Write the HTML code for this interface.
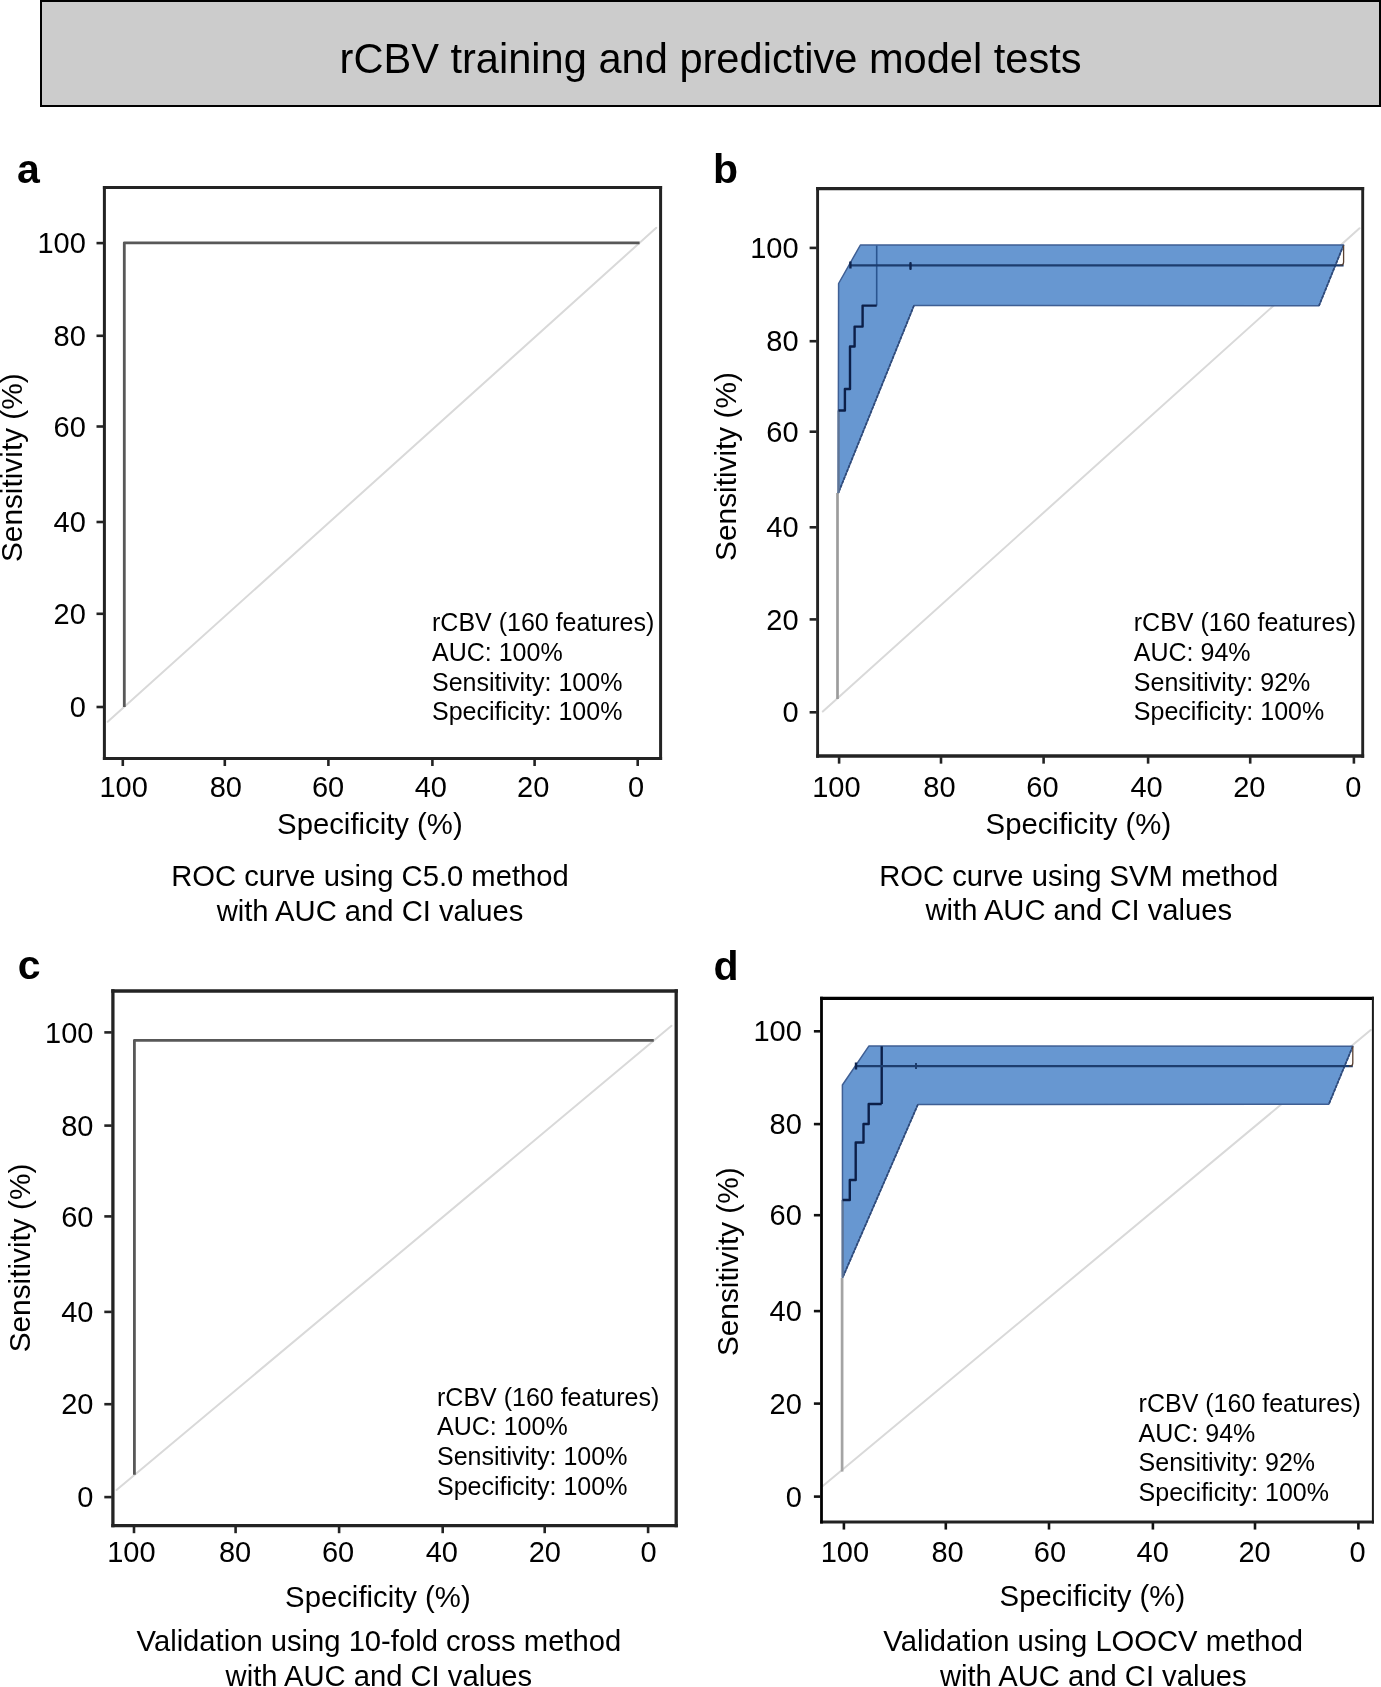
<!DOCTYPE html>
<html><head><meta charset="utf-8"><title>rCBV training and predictive model tests</title>
<style>
html,body{margin:0;padding:0;background:#fff;}
body{width:1381px;height:1687px;overflow:hidden;font-family:"Liberation Sans", sans-serif;}
svg{display:block;will-change:transform;}
svg text{font-family:"Liberation Sans", sans-serif;}
</style></head><body>
<svg width="1381" height="1687" viewBox="0 0 1381 1687" font-family='"Liberation Sans", sans-serif'>
<rect x="41" y="1" width="1339" height="105" fill="#cccccc" stroke="#000" stroke-width="2"/>
<text x="710.60" y="72.60" font-size="41.6" text-anchor="middle" font-weight="normal" fill="#000">rCBV training and predictive model tests</text>
<line x1="107.70" y1="721.80" x2="656.30" y2="227.80" stroke="#d9d9d9" stroke-width="2.0" stroke-linecap="round"/>
<path d="M124.3,707 L124.3,242.8 L639.6,242.8" fill="none" stroke="#585858" stroke-width="2.8" stroke-linejoin="round"/>
<line x1="102.90" y1="187.50" x2="662.10" y2="187.50" stroke="#232323" stroke-width="3"/>
<line x1="102.90" y1="758.50" x2="662.10" y2="758.50" stroke="#232323" stroke-width="3"/>
<line x1="104.40" y1="186.00" x2="104.40" y2="760.00" stroke="#232323" stroke-width="3"/>
<line x1="660.60" y1="186.00" x2="660.60" y2="760.00" stroke="#232323" stroke-width="3"/>
<line x1="96.50" y1="707.00" x2="103.40" y2="707.00" stroke="#232323" stroke-width="2.6"/>
<text x="85.80" y="717.10" font-size="29" text-anchor="end" font-weight="normal" fill="#000">0</text>
<line x1="96.50" y1="613.80" x2="103.40" y2="613.80" stroke="#232323" stroke-width="2.6"/>
<text x="85.80" y="623.90" font-size="29" text-anchor="end" font-weight="normal" fill="#000">20</text>
<line x1="96.50" y1="522.00" x2="103.40" y2="522.00" stroke="#232323" stroke-width="2.6"/>
<text x="85.80" y="532.10" font-size="29" text-anchor="end" font-weight="normal" fill="#000">40</text>
<line x1="96.50" y1="426.50" x2="103.40" y2="426.50" stroke="#232323" stroke-width="2.6"/>
<text x="85.80" y="436.60" font-size="29" text-anchor="end" font-weight="normal" fill="#000">60</text>
<line x1="96.50" y1="335.80" x2="103.40" y2="335.80" stroke="#232323" stroke-width="2.6"/>
<text x="85.80" y="345.90" font-size="29" text-anchor="end" font-weight="normal" fill="#000">80</text>
<line x1="96.50" y1="243.10" x2="103.40" y2="243.10" stroke="#232323" stroke-width="2.6"/>
<text x="85.80" y="253.20" font-size="29" text-anchor="end" font-weight="normal" fill="#000">100</text>
<line x1="122.80" y1="759.50" x2="122.80" y2="766.00" stroke="#232323" stroke-width="2.6"/>
<text x="123.67" y="797.30" font-size="29" text-anchor="middle" font-weight="normal" fill="#000">100</text>
<line x1="224.80" y1="759.50" x2="224.80" y2="766.00" stroke="#232323" stroke-width="2.6"/>
<text x="225.85" y="797.30" font-size="29" text-anchor="middle" font-weight="normal" fill="#000">80</text>
<line x1="328.40" y1="759.50" x2="328.40" y2="766.00" stroke="#232323" stroke-width="2.6"/>
<text x="328.03" y="797.30" font-size="29" text-anchor="middle" font-weight="normal" fill="#000">60</text>
<line x1="432.40" y1="759.50" x2="432.40" y2="766.00" stroke="#232323" stroke-width="2.6"/>
<text x="430.84" y="797.30" font-size="29" text-anchor="middle" font-weight="normal" fill="#000">40</text>
<line x1="534.60" y1="759.50" x2="534.60" y2="766.00" stroke="#232323" stroke-width="2.6"/>
<text x="533.15" y="797.30" font-size="29" text-anchor="middle" font-weight="normal" fill="#000">20</text>
<line x1="637.70" y1="759.50" x2="637.70" y2="766.00" stroke="#232323" stroke-width="2.6"/>
<text x="636.10" y="797.30" font-size="29" text-anchor="middle" font-weight="normal" fill="#000">0</text>
<text x="17.10" y="182.90" font-size="41" text-anchor="start" font-weight="bold" fill="#000">a</text>
<text x="22.40" y="467.70" font-size="29.8" text-anchor="middle" font-weight="normal" fill="#000" transform="rotate(-90 22.4 467.7)">Sensitivity (%)</text>
<text x="369.90" y="834.00" font-size="29.3" text-anchor="middle" font-weight="normal" fill="#000">Specificity (%)</text>
<text x="370.00" y="885.90" font-size="29.2" text-anchor="middle" font-weight="normal" fill="#000">ROC curve using C5.0 method</text>
<text x="370.00" y="920.60" font-size="29.2" text-anchor="middle" font-weight="normal" fill="#000">with AUC and CI values</text>
<text x="432.00" y="631.00" font-size="25" text-anchor="start" font-weight="normal" fill="#000">rCBV (160 features)</text>
<text x="432.00" y="660.60" font-size="25" text-anchor="start" font-weight="normal" fill="#000">AUC: 100%</text>
<text x="432.00" y="690.50" font-size="25" text-anchor="start" font-weight="normal" fill="#000">Sensitivity: 100%</text>
<text x="432.00" y="720.40" font-size="25" text-anchor="start" font-weight="normal" fill="#000">Specificity: 100%</text>
<line x1="822.80" y1="711.50" x2="1359.50" y2="228.20" stroke="#d9d9d9" stroke-width="2.0" stroke-linecap="round"/>
<polygon points="838.6,283.5 860.4,245.0 1343.6,245.0 1319.0,305.8 914.0,305.5 838.2,493.3" fill="#6797d1" stroke="#3f5f94" stroke-width="1.5" stroke-linejoin="round"/>
<path d="M1343.6,245.0 L1319.0,305.8 M914.0,305.5 L838.2,493.3" fill="none" stroke="#2f4a78" stroke-width="1.7" stroke-dasharray="3 1.2"/>
<path d="M837.5,699 L837.5,493" fill="none" stroke="#9c9c9c" stroke-width="2.7" stroke-linejoin="round"/>
<path d="M876.7,245.5 V305.6" fill="none" stroke="#2a5590" stroke-width="1.6" stroke-linejoin="round"/>
<path d="M850.2,265.4 H1343.6" fill="none" stroke="#1d3d6e" stroke-width="2.3" stroke-linejoin="round"/>
<path d="M1343.6,245.5 V262 Q1343.6,265.2 1340,265.2" fill="none" stroke="#5a4030" stroke-width="1.3" stroke-linejoin="round"/>
<path d="M838.6,410.5 V493" fill="none" stroke="#5f7596" stroke-width="2.2" stroke-linejoin="round"/>
<path d="M876.7,305.6 H862.6 V326.6 H854.6 V346.5 H850 V389 H844.9 V410.5 H838.6" fill="none" stroke="#0c1f48" stroke-width="2.4" stroke-linejoin="round"/>
<rect x="849.2" y="261.5" width="2.4" height="7" fill="#0f2550"/>
<rect x="909.3" y="262" width="2.4" height="8" rx="1" fill="#0f2550"/>
<line x1="816.15" y1="188.70" x2="1364.15" y2="188.70" stroke="#232323" stroke-width="3.3"/>
<line x1="816.15" y1="756.00" x2="1364.15" y2="756.00" stroke="#232323" stroke-width="3.3"/>
<line x1="817.60" y1="187.05" x2="817.60" y2="757.65" stroke="#232323" stroke-width="2.9"/>
<line x1="1362.70" y1="187.05" x2="1362.70" y2="757.65" stroke="#232323" stroke-width="2.9"/>
<line x1="809.60" y1="712.30" x2="816.65" y2="712.30" stroke="#232323" stroke-width="2.6"/>
<text x="798.60" y="722.40" font-size="29" text-anchor="end" font-weight="normal" fill="#000">0</text>
<line x1="809.60" y1="619.40" x2="816.65" y2="619.40" stroke="#232323" stroke-width="2.6"/>
<text x="798.60" y="629.50" font-size="29" text-anchor="end" font-weight="normal" fill="#000">20</text>
<line x1="809.60" y1="527.30" x2="816.65" y2="527.30" stroke="#232323" stroke-width="2.6"/>
<text x="798.60" y="537.40" font-size="29" text-anchor="end" font-weight="normal" fill="#000">40</text>
<line x1="809.60" y1="431.70" x2="816.65" y2="431.70" stroke="#232323" stroke-width="2.6"/>
<text x="798.60" y="441.80" font-size="29" text-anchor="end" font-weight="normal" fill="#000">60</text>
<line x1="809.60" y1="341.20" x2="816.65" y2="341.20" stroke="#232323" stroke-width="2.6"/>
<text x="798.60" y="351.30" font-size="29" text-anchor="end" font-weight="normal" fill="#000">80</text>
<line x1="809.60" y1="247.90" x2="816.65" y2="247.90" stroke="#232323" stroke-width="2.6"/>
<text x="798.60" y="258.00" font-size="29" text-anchor="end" font-weight="normal" fill="#000">100</text>
<line x1="839.10" y1="757.15" x2="839.10" y2="763.65" stroke="#232323" stroke-width="2.6"/>
<text x="836.37" y="797.20" font-size="29" text-anchor="middle" font-weight="normal" fill="#000">100</text>
<line x1="941.00" y1="757.15" x2="941.00" y2="763.65" stroke="#232323" stroke-width="2.6"/>
<text x="939.45" y="797.20" font-size="29" text-anchor="middle" font-weight="normal" fill="#000">80</text>
<line x1="1043.60" y1="757.15" x2="1043.60" y2="763.65" stroke="#232323" stroke-width="2.6"/>
<text x="1042.43" y="797.20" font-size="29" text-anchor="middle" font-weight="normal" fill="#000">60</text>
<line x1="1148.10" y1="757.15" x2="1148.10" y2="763.65" stroke="#232323" stroke-width="2.6"/>
<text x="1146.54" y="797.20" font-size="29" text-anchor="middle" font-weight="normal" fill="#000">40</text>
<line x1="1250.20" y1="757.15" x2="1250.20" y2="763.65" stroke="#232323" stroke-width="2.6"/>
<text x="1249.35" y="797.20" font-size="29" text-anchor="middle" font-weight="normal" fill="#000">20</text>
<line x1="1353.90" y1="757.15" x2="1353.90" y2="763.65" stroke="#232323" stroke-width="2.6"/>
<text x="1353.20" y="797.20" font-size="29" text-anchor="middle" font-weight="normal" fill="#000">0</text>
<text x="713.00" y="182.80" font-size="41" text-anchor="start" font-weight="bold" fill="#000">b</text>
<text x="735.50" y="466.50" font-size="29.8" text-anchor="middle" font-weight="normal" fill="#000" transform="rotate(-90 735.5 466.5)">Sensitivity (%)</text>
<text x="1078.40" y="834.10" font-size="29.3" text-anchor="middle" font-weight="normal" fill="#000">Specificity (%)</text>
<text x="1078.80" y="885.80" font-size="29.2" text-anchor="middle" font-weight="normal" fill="#000">ROC curve using SVM method</text>
<text x="1078.80" y="920.30" font-size="29.2" text-anchor="middle" font-weight="normal" fill="#000">with AUC and CI values</text>
<text x="1133.80" y="631.00" font-size="25" text-anchor="start" font-weight="normal" fill="#000">rCBV (160 features)</text>
<text x="1133.80" y="660.60" font-size="25" text-anchor="start" font-weight="normal" fill="#000">AUC: 94%</text>
<text x="1133.80" y="690.50" font-size="25" text-anchor="start" font-weight="normal" fill="#000">Sensitivity: 92%</text>
<text x="1133.80" y="720.40" font-size="25" text-anchor="start" font-weight="normal" fill="#000">Specificity: 100%</text>
<line x1="116.50" y1="1489.90" x2="671.50" y2="1025.80" stroke="#d9d9d9" stroke-width="2.0" stroke-linecap="round"/>
<path d="M134.4,1474.8 L134.4,1040.3 L653.8,1040.3" fill="none" stroke="#585858" stroke-width="2.8" stroke-linejoin="round"/>
<line x1="111.25" y1="991.00" x2="677.85" y2="991.00" stroke="#232323" stroke-width="3.4"/>
<line x1="111.25" y1="1525.60" x2="677.85" y2="1525.60" stroke="#232323" stroke-width="3.2"/>
<line x1="112.90" y1="989.30" x2="112.90" y2="1527.20" stroke="#232323" stroke-width="3.3"/>
<line x1="676.20" y1="989.30" x2="676.20" y2="1527.20" stroke="#232323" stroke-width="3.3"/>
<line x1="104.30" y1="1497.10" x2="111.75" y2="1497.10" stroke="#232323" stroke-width="2.6"/>
<text x="93.50" y="1507.20" font-size="29" text-anchor="end" font-weight="normal" fill="#000">0</text>
<line x1="104.30" y1="1404.20" x2="111.75" y2="1404.20" stroke="#232323" stroke-width="2.6"/>
<text x="93.50" y="1414.30" font-size="29" text-anchor="end" font-weight="normal" fill="#000">20</text>
<line x1="104.30" y1="1311.90" x2="111.75" y2="1311.90" stroke="#232323" stroke-width="2.6"/>
<text x="93.50" y="1322.00" font-size="29" text-anchor="end" font-weight="normal" fill="#000">40</text>
<line x1="104.30" y1="1216.40" x2="111.75" y2="1216.40" stroke="#232323" stroke-width="2.6"/>
<text x="93.50" y="1226.50" font-size="29" text-anchor="end" font-weight="normal" fill="#000">60</text>
<line x1="104.30" y1="1125.60" x2="111.75" y2="1125.60" stroke="#232323" stroke-width="2.6"/>
<text x="93.50" y="1135.70" font-size="29" text-anchor="end" font-weight="normal" fill="#000">80</text>
<line x1="104.30" y1="1032.40" x2="111.75" y2="1032.40" stroke="#232323" stroke-width="2.6"/>
<text x="93.50" y="1042.50" font-size="29" text-anchor="end" font-weight="normal" fill="#000">100</text>
<line x1="134.00" y1="1526.70" x2="134.00" y2="1533.20" stroke="#232323" stroke-width="2.6"/>
<text x="131.37" y="1561.90" font-size="29" text-anchor="middle" font-weight="normal" fill="#000">100</text>
<line x1="235.60" y1="1526.70" x2="235.60" y2="1533.20" stroke="#232323" stroke-width="2.6"/>
<text x="235.05" y="1561.90" font-size="29" text-anchor="middle" font-weight="normal" fill="#000">80</text>
<line x1="339.10" y1="1526.70" x2="339.10" y2="1533.20" stroke="#232323" stroke-width="2.6"/>
<text x="338.13" y="1561.90" font-size="29" text-anchor="middle" font-weight="normal" fill="#000">60</text>
<line x1="442.70" y1="1526.70" x2="442.70" y2="1533.20" stroke="#232323" stroke-width="2.6"/>
<text x="441.84" y="1561.90" font-size="29" text-anchor="middle" font-weight="normal" fill="#000">40</text>
<line x1="544.70" y1="1526.70" x2="544.70" y2="1533.20" stroke="#232323" stroke-width="2.6"/>
<text x="544.85" y="1561.90" font-size="29" text-anchor="middle" font-weight="normal" fill="#000">20</text>
<line x1="648.10" y1="1526.70" x2="648.10" y2="1533.20" stroke="#232323" stroke-width="2.6"/>
<text x="648.60" y="1561.90" font-size="29" text-anchor="middle" font-weight="normal" fill="#000">0</text>
<text x="17.85" y="979.40" font-size="41" text-anchor="start" font-weight="bold" fill="#000">c</text>
<text x="30.40" y="1258.00" font-size="29.8" text-anchor="middle" font-weight="normal" fill="#000" transform="rotate(-90 30.4 1258)">Sensitivity (%)</text>
<text x="377.90" y="1607.00" font-size="29.3" text-anchor="middle" font-weight="normal" fill="#000">Specificity (%)</text>
<text x="378.90" y="1651.00" font-size="29.2" text-anchor="middle" font-weight="normal" fill="#000">Validation using 10-fold cross method</text>
<text x="378.90" y="1685.70" font-size="29.2" text-anchor="middle" font-weight="normal" fill="#000">with AUC and CI values</text>
<text x="437.00" y="1405.50" font-size="25" text-anchor="start" font-weight="normal" fill="#000">rCBV (160 features)</text>
<text x="437.00" y="1435.30" font-size="25" text-anchor="start" font-weight="normal" fill="#000">AUC: 100%</text>
<text x="437.00" y="1464.90" font-size="25" text-anchor="start" font-weight="normal" fill="#000">Sensitivity: 100%</text>
<text x="437.00" y="1494.70" font-size="25" text-anchor="start" font-weight="normal" fill="#000">Specificity: 100%</text>
<line x1="822.80" y1="1486.00" x2="1370.70" y2="1030.00" stroke="#d9d9d9" stroke-width="2.0" stroke-linecap="round"/>
<polygon points="842.4,1085.0 869.0,1045.9 1352.8,1046.2 1328.8,1104.3 917.9,1104.5 842.6,1277.7" fill="#6797d1" stroke="#3f5f94" stroke-width="1.5" stroke-linejoin="round"/>
<path d="M1352.8,1046.2 L1328.8,1104.3 M917.9,1104.5 L842.6,1277.7" fill="none" stroke="#2f4a78" stroke-width="1.7" stroke-dasharray="3 1.2"/>
<path d="M842.1,1471.6 L842.1,1278" fill="none" stroke="#a4a4a4" stroke-width="2.7" stroke-linejoin="round"/>
<path d="M881.7,1046.3 V1104" fill="none" stroke="#0c1f48" stroke-width="2.4" stroke-linejoin="round"/>
<path d="M856,1066.2 H1352.8" fill="none" stroke="#1d3d6e" stroke-width="2.2" stroke-linejoin="round"/>
<path d="M1352.8,1046.5 V1063 Q1352.8,1066.2 1349,1066.2" fill="none" stroke="#5a4030" stroke-width="1.3" stroke-linejoin="round"/>
<path d="M842.6,1200 V1277.7" fill="none" stroke="#5f7596" stroke-width="2.2" stroke-linejoin="round"/>
<path d="M881.7,1104 H868.7 V1124 H863.5 V1142.5 H855.7 V1180 H849.8 V1200 H842.6" fill="none" stroke="#0c1f48" stroke-width="2.4" stroke-linejoin="round"/>
<rect x="854.8" y="1062.5" width="2.4" height="7" fill="#0f2550"/>
<rect x="915" y="1063" width="2" height="6" fill="#1d3d6e"/>
<line x1="820.10" y1="998.30" x2="1373.90" y2="998.30" stroke="#000" stroke-width="3.2"/>
<line x1="820.10" y1="1522.00" x2="1373.90" y2="1522.00" stroke="#222" stroke-width="3.1"/>
<line x1="821.50" y1="996.70" x2="821.50" y2="1523.55" stroke="#000" stroke-width="2.8"/>
<line x1="1372.90" y1="996.70" x2="1372.90" y2="1523.55" stroke="#1a1a1a" stroke-width="2.0"/>
<line x1="813.90" y1="1496.60" x2="820.60" y2="1496.60" stroke="#111" stroke-width="2.6"/>
<text x="801.80" y="1506.70" font-size="29" text-anchor="end" font-weight="normal" fill="#000">0</text>
<line x1="813.90" y1="1403.60" x2="820.60" y2="1403.60" stroke="#111" stroke-width="2.6"/>
<text x="801.80" y="1413.70" font-size="29" text-anchor="end" font-weight="normal" fill="#000">20</text>
<line x1="813.90" y1="1311.10" x2="820.60" y2="1311.10" stroke="#111" stroke-width="2.6"/>
<text x="801.80" y="1321.20" font-size="29" text-anchor="end" font-weight="normal" fill="#000">40</text>
<line x1="813.90" y1="1215.20" x2="820.60" y2="1215.20" stroke="#111" stroke-width="2.6"/>
<text x="801.80" y="1225.30" font-size="29" text-anchor="end" font-weight="normal" fill="#000">60</text>
<line x1="813.90" y1="1124.10" x2="820.60" y2="1124.10" stroke="#111" stroke-width="2.6"/>
<text x="801.80" y="1134.20" font-size="29" text-anchor="end" font-weight="normal" fill="#000">80</text>
<line x1="813.90" y1="1031.30" x2="820.60" y2="1031.30" stroke="#111" stroke-width="2.6"/>
<text x="801.80" y="1041.40" font-size="29" text-anchor="end" font-weight="normal" fill="#000">100</text>
<line x1="843.90" y1="1523.05" x2="843.90" y2="1529.55" stroke="#111" stroke-width="2.6"/>
<text x="844.87" y="1561.90" font-size="29" text-anchor="middle" font-weight="normal" fill="#000">100</text>
<line x1="945.80" y1="1523.05" x2="945.80" y2="1529.55" stroke="#111" stroke-width="2.6"/>
<text x="947.55" y="1561.90" font-size="29" text-anchor="middle" font-weight="normal" fill="#000">80</text>
<line x1="1049.00" y1="1523.05" x2="1049.00" y2="1529.55" stroke="#111" stroke-width="2.6"/>
<text x="1049.93" y="1561.90" font-size="29" text-anchor="middle" font-weight="normal" fill="#000">60</text>
<line x1="1152.90" y1="1523.05" x2="1152.90" y2="1529.55" stroke="#111" stroke-width="2.6"/>
<text x="1152.74" y="1561.90" font-size="29" text-anchor="middle" font-weight="normal" fill="#000">40</text>
<line x1="1255.00" y1="1523.05" x2="1255.00" y2="1529.55" stroke="#111" stroke-width="2.6"/>
<text x="1254.55" y="1561.90" font-size="29" text-anchor="middle" font-weight="normal" fill="#000">20</text>
<line x1="1358.40" y1="1523.05" x2="1358.40" y2="1529.55" stroke="#111" stroke-width="2.6"/>
<text x="1357.60" y="1561.90" font-size="29" text-anchor="middle" font-weight="normal" fill="#000">0</text>
<text x="713.40" y="980.10" font-size="41" text-anchor="start" font-weight="bold" fill="#000">d</text>
<text x="738.00" y="1261.70" font-size="29.8" text-anchor="middle" font-weight="normal" fill="#000" transform="rotate(-90 738.0 1261.7)">Sensitivity (%)</text>
<text x="1092.40" y="1605.90" font-size="29.3" text-anchor="middle" font-weight="normal" fill="#000">Specificity (%)</text>
<text x="1093.20" y="1651.40" font-size="29.2" text-anchor="middle" font-weight="normal" fill="#000">Validation using LOOCV method</text>
<text x="1093.20" y="1686.00" font-size="29.2" text-anchor="middle" font-weight="normal" fill="#000">with AUC and CI values</text>
<text x="1138.60" y="1411.70" font-size="25" text-anchor="start" font-weight="normal" fill="#000">rCBV (160 features)</text>
<text x="1138.60" y="1441.60" font-size="25" text-anchor="start" font-weight="normal" fill="#000">AUC: 94%</text>
<text x="1138.60" y="1471.10" font-size="25" text-anchor="start" font-weight="normal" fill="#000">Sensitivity: 92%</text>
<text x="1138.60" y="1501.20" font-size="25" text-anchor="start" font-weight="normal" fill="#000">Specificity: 100%</text>
</svg>
</body></html>
